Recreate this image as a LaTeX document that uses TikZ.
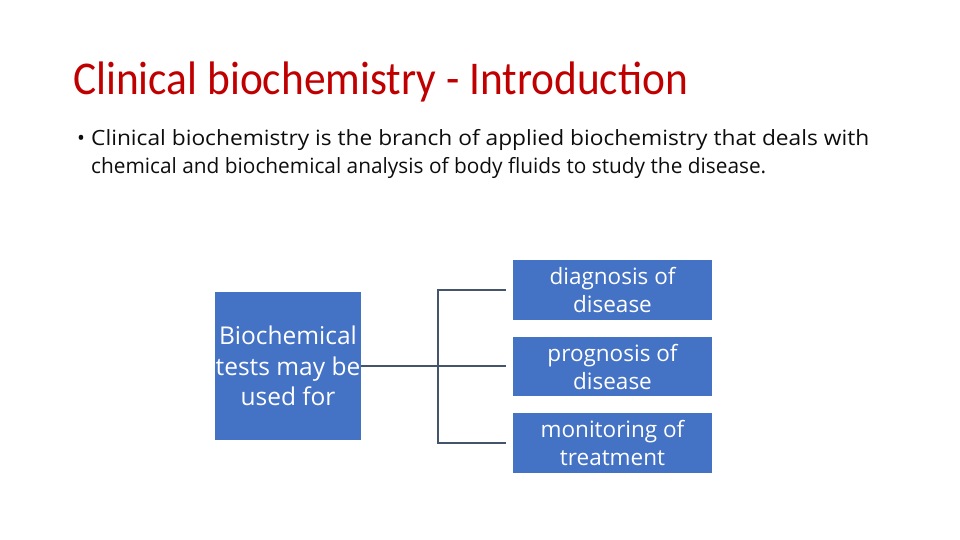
\documentclass[tikz,border=0pt]{standalone}
\usepackage{fontspec}
\setmainfont{Open Sans}
\newfontfamily\titlefont{Carlito}
\usetikzlibrary{positioning}
\definecolor{titlered}{HTML}{C00000}
\definecolor{boxblue}{HTML}{4472C4}
\definecolor{linegray}{HTML}{44546A}
\definecolor{bodytext}{HTML}{0D0D0D}
\tikzset{
  bluebox/.style={draw=none, fill=boxblue, text=white, align=center, inner sep=0pt},
  bigtext/.style={font=\fontsize{24.5}{30.5}\selectfont},
  smalltext/.style={font=\fontsize{22.5}{28}\selectfont},
  conn/.style={draw=linegray, line width=1.8pt},
}
\begin{document}
\begin{tikzpicture}[x=1pt, y=-1pt]
\useasboundingbox (0,0) rectangle (960,540);
% title
\node[anchor=base west, inner sep=0pt, text=titlered] (title) at (73,95)
  {\resizebox{615pt}{\height}{\titlefont\fontsize{47}{50}\selectfont Clinical biochemistry - Introduction}};
% bullet text
\node[anchor=base west, inner sep=0pt, text=bodytext] (bullet) at (77,146)
  {\fontsize{21}{27}\selectfont\textbullet};
\node[anchor=base west, inner sep=0pt, text=bodytext] (line1) at (91,146)
  {\resizebox{778pt}{\height}{\fontsize{21}{27}\selectfont Clinical biochemistry is the branch of applied biochemistry that deals with}};
\node[anchor=base west, inner sep=0pt, text=bodytext] (line2) at (91,173)
  {\resizebox{675pt}{\height}{\fontsize{21}{27}\selectfont chemical and biochemical analysis of body fluids to study the disease.}};
% boxes
\node[bluebox, bigtext, minimum width=146pt, minimum height=148pt] (bio) at (288,366)
  {Biochemical\\tests may be\\used for};
\node[bluebox, smalltext, minimum width=199pt, minimum height=60pt] (diag) at (612.5,290)
  {diagnosis of\\disease};
\node[bluebox, smalltext, minimum width=199pt, minimum height=59pt] (prog) at (612.5,366.5)
  {prognosis of\\disease};
\node[bluebox, smalltext, minimum width=199pt, minimum height=60pt] (moni) at (612.5,443)
  {monitoring of\\treatment};
% connectors
\coordinate (j) at (438,366);
\draw[conn, shorten >=7pt] (bio.east) -- (bio.east -| prog.west);
\draw[conn, shorten >=7pt] (j) |- (diag.west);
\draw[conn, shorten >=7pt] (j) |- (moni.west);
\end{tikzpicture}
\end{document}
